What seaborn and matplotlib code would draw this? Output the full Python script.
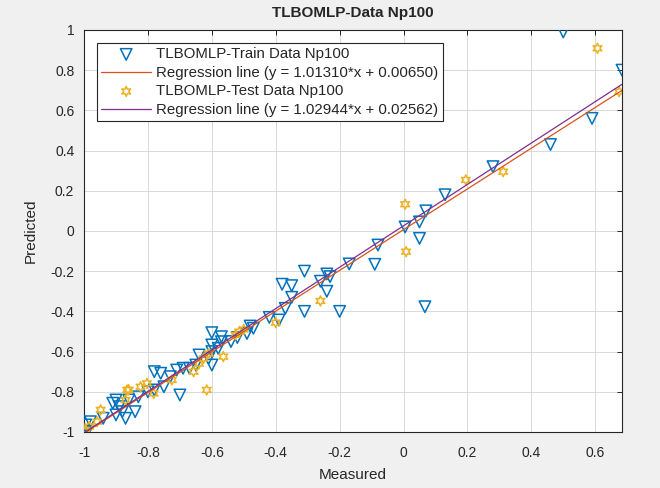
import numpy as np
import pandas as pd
import seaborn as sns
import matplotlib.pyplot as plt
from matplotlib.ticker import FormatStrFormatter

# values
train_x = [0.50, 0.684, 0.59, 0.46, 0.28, 0.13, 0.07, 0.005, 0.05, 0.05,
           -0.08, -0.09, -0.17, 0.067, -0.20, -0.31, -0.24, -0.26, -0.24, -0.38,
           -0.35, -0.35, -0.37, -0.31, -0.42, -0.39, -0.47, -0.49, -0.48, -0.60,
           -0.57, -0.60, -0.57, -0.58, -0.64, -0.60, -0.61, -0.60, -0.65, -0.67,
           -0.69, -0.71, -0.73, -0.78, -0.76, -0.70, -0.75, -0.78, -0.80, -0.83,
           -0.86, -0.90, -0.91, -0.89, -0.88, -0.84, -0.87, -0.90, -0.94, -0.98,
           -0.995, -0.99, -0.23, -0.54, -0.52]
train_y = [0.99, 0.80, 0.56, 0.43, 0.32, 0.18, 0.10, 0.02, 0.045, -0.037,
           -0.07, -0.166, -0.164, -0.377, -0.40, -0.20, -0.214, -0.25, -0.30, -0.265,
           -0.272, -0.33, -0.385, -0.40, -0.43, -0.443, -0.484, -0.51, -0.473, -0.506,
           -0.526, -0.567, -0.551, -0.584, -0.617, -0.60, -0.634, -0.667, -0.667, -0.683,
           -0.683, -0.692, -0.725, -0.70, -0.708, -0.816, -0.775, -0.791, -0.80, -0.825,
           -0.841, -0.841, -0.857, -0.874, -0.899, -0.899, -0.932, -0.915, -0.932, -0.949,
           -0.965, -0.998, -0.227, -0.55, -0.53]

test_x = [0.607, 0.675, 0.312, 0.195, 0.005, 0.008, -0.26, -0.40, -0.526, -0.514,
          -0.564, -0.626, -0.616, -0.657, -0.725, -0.782, -0.803, -0.823, -0.870, -0.865,
          -0.948, -0.959, -0.984, -0.995, -0.61, -0.64, -0.50, -0.86]
test_y = [0.909, 0.693, 0.295, 0.254, 0.133, -0.103, -0.348, -0.456, -0.517, -0.501,
          -0.625, -0.634, -0.791, -0.70, -0.741, -0.808, -0.758, -0.775, -0.841, -0.791,
          -0.89, -0.949, -0.973, -0.99, -0.61, -0.66, -0.49, -0.79]

train_coef = (1.01310, 0.00650)
test_coef = (1.02944, 0.02562)

train_label = 'TLBOMLP-Train Data Np100'
test_label = 'TLBOMLP-Test Data Np100'
title = 'TLBOMLP-Data Np100'
x_ticks = [-1, -0.8, -0.6, -0.4, -0.2, 0, 0.2, 0.4, 0.6]
y_ticks = [-1, -0.8, -0.6, -0.4, -0.2, 0, 0.2, 0.4, 0.6, 0.8, 1]

sns.set_style("white")
plt.rcParams['font.family'] = ['Liberation Sans', 'DejaVu Sans']
plt.rcParams['axes.unicode_minus'] = False

fig = plt.figure(figsize=(6.6, 4.88), dpi=100, facecolor='#f0f0f0')
ax = fig.add_axes([0.1273, 0.1148, 0.8152, 0.8238])
ax.set_facecolor('white')

all_x = np.array(train_x + test_x)
line_x = np.array([all_x.min(), all_x.max()])
train_line = pd.DataFrame({'x': line_x, 'y': train_coef[0] * line_x + train_coef[1]})
test_line = pd.DataFrame({'x': line_x, 'y': test_coef[0] * line_x + test_coef[1]})

sns.scatterplot(x=train_x, y=train_y, marker='v', s=68, facecolor='none',
                edgecolor='#0072BD', linewidth=1.1, ax=ax, zorder=3,
                label=train_label)
sns.lineplot(data=train_line, x='x', y='y', color='#D95319', linewidth=0.9, ax=ax,
             zorder=4,
             label=f'Regression line (y = {train_coef[0]:.5f}*x + {train_coef[1]:.5f})')
sns.scatterplot(x=test_x, y=test_y, marker=(6, 1, 0), s=52, facecolor='none',
                edgecolor='#EDB120', linewidth=1.1, ax=ax, zorder=3,
                label=test_label)
sns.lineplot(data=test_line, x='x', y='y', color='#7E2F8E', linewidth=0.9, ax=ax,
             zorder=4,
             label=f'Regression line (y = {test_coef[0]:.5f}*x + {test_coef[1]:.5f})')

ax.set_xlim(-1, all_x.max())
ax.set_ylim(-1, 1)
ax.set_xticks(x_ticks)
ax.set_yticks(y_ticks)
ax.xaxis.set_major_formatter(FormatStrFormatter('%g'))
ax.yaxis.set_major_formatter(FormatStrFormatter('%g'))
ax.grid(True, color='#d9d9d9', linewidth=0.7)
ax.set_axisbelow(True)
ax.tick_params(direction='in', length=3.5, width=0.7, colors='#262626',
               labelsize=10, top=True, right=True)
ax.tick_params(axis='x', pad=10)
ax.tick_params(axis='y', pad=7)
for s in ax.spines.values():
    s.set_color('#262626')
    s.set_linewidth(0.8)

ax.set_xlabel('Measured', fontsize=11, color='#262626', labelpad=6)
ax.set_ylabel('Predicted', fontsize=11, color='#262626', labelpad=9)
ax.set_title(title, fontsize=11, fontweight='bold', pad=9)

leg = ax.legend(loc='upper left', bbox_to_anchor=(0.024, 0.968), borderaxespad=0,
                fontsize=10.8, frameon=True, fancybox=False, edgecolor='#262626',
                framealpha=1, handlelength=3.3, handletextpad=0.35,
                labelspacing=0.3, borderpad=0.3, scatterpoints=1)
leg.get_frame().set_linewidth(0.8)

fig.savefig('out.png', dpi=100, facecolor=fig.get_facecolor())
